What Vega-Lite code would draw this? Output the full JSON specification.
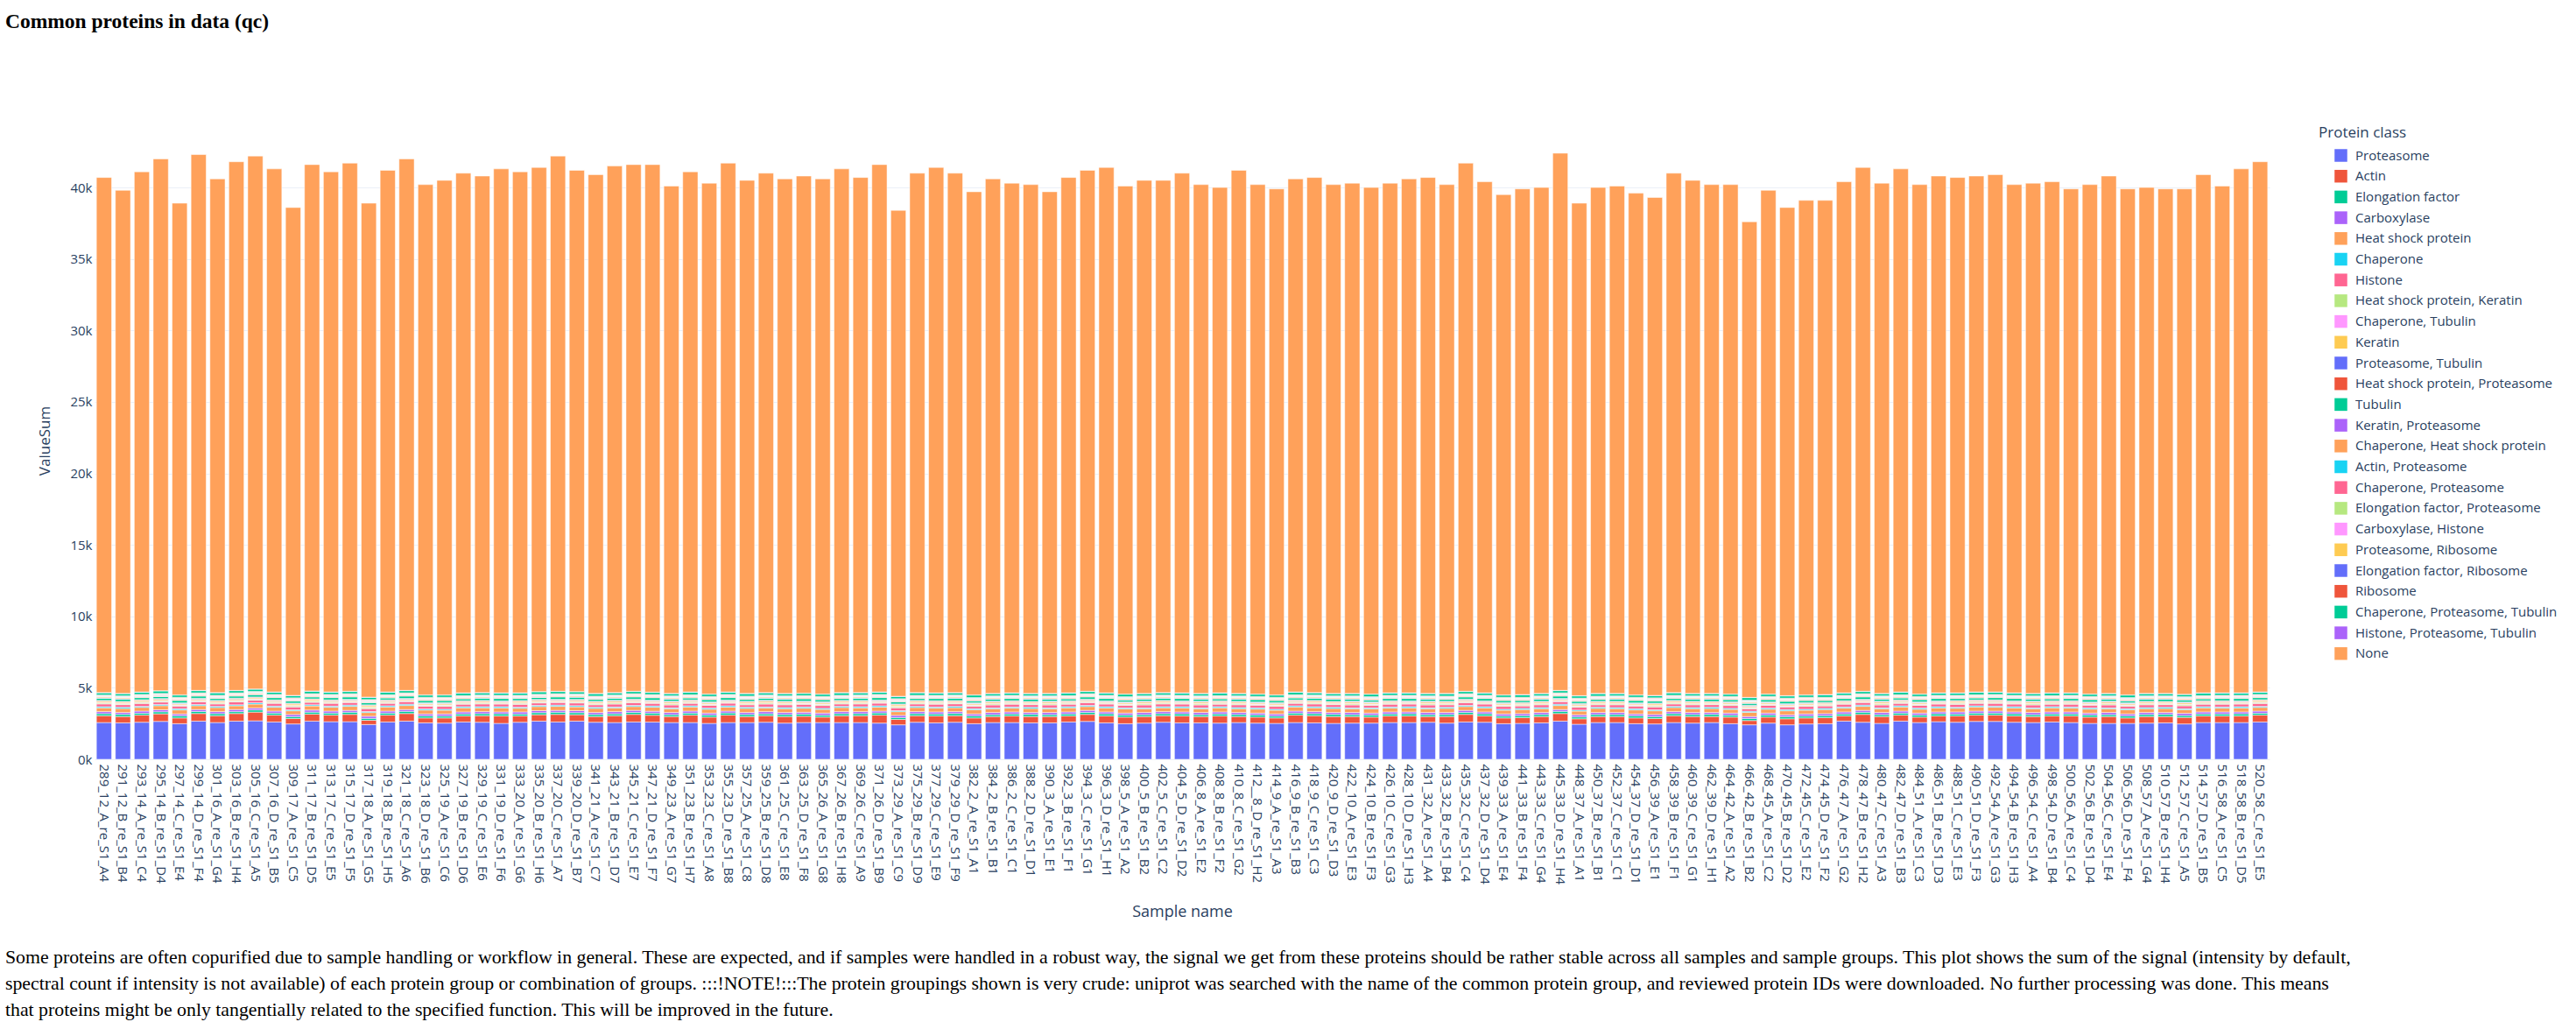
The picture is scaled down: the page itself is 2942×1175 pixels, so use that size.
{
"$schema": "https://vega.github.io/schema/vega-lite/v6.json",
"background": "white",
"padding": {"left": 5, "top": 12, "right": 5, "bottom": 5},
"title": {"text": "Common proteins in data (qc)", "anchor": "start", "frame": "bounds", "font": "Liberation Serif", "fontSize": 23.5, "fontWeight": "bold", "color": "#000000", "offset": 103},
"datasets": {
"classes": [{"k":"a","name":"Proteasome","o":0},{"k":"b","name":"Actin","o":1},{"k":"c","name":"Elongation factor","o":2},{"k":"d","name":"Carboxylase","o":3},{"k":"e","name":"Heat shock protein","o":4},{"k":"f","name":"Chaperone","o":5},{"k":"g","name":"Histone","o":6},{"k":"h","name":"Heat shock protein, Keratin","o":7},{"k":"i","name":"Chaperone, Tubulin","o":8},{"k":"j","name":"Keratin","o":9},{"k":"k","name":"Proteasome, Tubulin","o":10},{"k":"l","name":"Heat shock protein, Proteasome","o":11},{"k":"m","name":"Tubulin","o":12},{"k":"n","name":"Keratin, Proteasome","o":13},{"k":"o","name":"Chaperone, Heat shock protein","o":14},{"k":"p","name":"Actin, Proteasome","o":15},{"k":"q","name":"Chaperone, Proteasome","o":16},{"k":"r","name":"Elongation factor, Proteasome","o":17},{"k":"s","name":"Carboxylase, Histone","o":18},{"k":"t","name":"Proteasome, Ribosome","o":19},{"k":"u","name":"Elongation factor, Ribosome","o":20},{"k":"v","name":"Ribosome","o":21},{"k":"w","name":"Chaperone, Proteasome, Tubulin","o":22},{"k":"x","name":"Histone, Proteasome, Tubulin","o":23},{"k":"y","name":"None","o":24}],
"samples": [
{"sn":"289_12_A_re_S1_A4","a":2570,"b":480,"c":140,"d":140,"e":270,"f":80,"g":190,"h":60,"i":40,"j":80,"k":40,"l":30,"m":150,"n":20,"o":60,"p":20,"q":20,"r":20,"s":20,"t":20,"u":20,"v":30,"w":150,"x":20,"y":36030},
{"sn":"291_12_B_re_S1_B4","a":2550,"b":440,"c":150,"d":130,"e":280,"f":90,"g":180,"h":50,"i":40,"j":70,"k":40,"l":30,"m":160,"n":20,"o":60,"p":20,"q":20,"r":20,"s":20,"t":20,"u":20,"v":30,"w":150,"x":20,"y":35190},
{"sn":"293_14_A_re_S1_C4","a":2590,"b":500,"c":130,"d":150,"e":260,"f":70,"g":200,"h":70,"i":40,"j":90,"k":40,"l":30,"m":140,"n":20,"o":60,"p":20,"q":20,"r":20,"s":20,"t":20,"u":20,"v":30,"w":150,"x":20,"y":36390},
{"sn":"295_14_B_re_S1_D4","a":2650,"b":530,"c":140,"d":140,"e":290,"f":80,"g":170,"h":60,"i":40,"j":80,"k":40,"l":30,"m":130,"n":20,"o":60,"p":20,"q":20,"r":20,"s":20,"t":20,"u":20,"v":30,"w":170,"x":20,"y":37200},
{"sn":"297_14_C_re_S1_E4","a":2490,"b":400,"c":150,"d":130,"e":280,"f":90,"g":180,"h":50,"i":40,"j":70,"k":40,"l":30,"m":160,"n":20,"o":60,"p":20,"q":20,"r":20,"s":20,"t":20,"u":20,"v":30,"w":150,"x":20,"y":34390},
{"sn":"299_14_D_re_S1_F4","a":2670,"b":530,"c":140,"d":140,"e":270,"f":80,"g":190,"h":60,"i":40,"j":80,"k":40,"l":30,"m":150,"n":20,"o":60,"p":20,"q":20,"r":20,"s":20,"t":20,"u":20,"v":30,"w":150,"x":20,"y":37480},
{"sn":"301_16_A_re_S1_G4","a":2570,"b":480,"c":140,"d":140,"e":290,"f":80,"g":170,"h":60,"i":40,"j":80,"k":40,"l":30,"m":130,"n":20,"o":60,"p":20,"q":20,"r":20,"s":20,"t":20,"u":20,"v":30,"w":170,"x":20,"y":35930},
{"sn":"303_16_B_re_S1_H4","a":2670,"b":530,"c":130,"d":150,"e":260,"f":70,"g":200,"h":70,"i":40,"j":90,"k":40,"l":30,"m":140,"n":20,"o":60,"p":20,"q":20,"r":20,"s":20,"t":20,"u":20,"v":30,"w":150,"x":20,"y":36980},
{"sn":"305_16_C_re_S1_A5","a":2690,"b":610,"c":150,"d":130,"e":280,"f":90,"g":180,"h":50,"i":40,"j":70,"k":40,"l":30,"m":160,"n":20,"o":60,"p":20,"q":20,"r":20,"s":20,"t":20,"u":20,"v":30,"w":150,"x":20,"y":37280},
{"sn":"307_16_D_re_S1_B5","a":2610,"b":480,"c":140,"d":140,"e":270,"f":80,"g":190,"h":60,"i":40,"j":80,"k":40,"l":30,"m":150,"n":20,"o":60,"p":20,"q":20,"r":20,"s":20,"t":20,"u":20,"v":30,"w":150,"x":20,"y":36590},
{"sn":"309_17_A_re_S1_C5","a":2470,"b":380,"c":130,"d":150,"e":260,"f":70,"g":200,"h":70,"i":40,"j":90,"k":40,"l":30,"m":140,"n":20,"o":60,"p":20,"q":20,"r":20,"s":20,"t":20,"u":20,"v":30,"w":150,"x":20,"y":34130},
{"sn":"311_17_B_re_S1_D5","a":2670,"b":490,"c":140,"d":140,"e":290,"f":80,"g":170,"h":60,"i":40,"j":80,"k":40,"l":30,"m":130,"n":20,"o":60,"p":20,"q":20,"r":20,"s":20,"t":20,"u":20,"v":30,"w":170,"x":20,"y":36820},
{"sn":"313_17_C_re_S1_E5","a":2630,"b":460,"c":140,"d":140,"e":270,"f":80,"g":190,"h":60,"i":40,"j":80,"k":40,"l":30,"m":150,"n":20,"o":60,"p":20,"q":20,"r":20,"s":20,"t":20,"u":20,"v":30,"w":150,"x":20,"y":36390},
{"sn":"315_17_D_re_S1_F5","a":2630,"b":510,"c":150,"d":130,"e":280,"f":90,"g":180,"h":50,"i":40,"j":70,"k":40,"l":30,"m":160,"n":20,"o":60,"p":20,"q":20,"r":20,"s":20,"t":20,"u":20,"v":30,"w":150,"x":20,"y":36940},
{"sn":"317_18_A_re_S1_G5","a":2430,"b":300,"c":130,"d":150,"e":260,"f":70,"g":200,"h":70,"i":40,"j":90,"k":40,"l":30,"m":140,"n":20,"o":60,"p":20,"q":20,"r":20,"s":20,"t":20,"u":20,"v":30,"w":150,"x":20,"y":34550},
{"sn":"319_18_B_re_S1_H5","a":2610,"b":480,"c":140,"d":140,"e":290,"f":80,"g":170,"h":60,"i":40,"j":80,"k":40,"l":30,"m":130,"n":20,"o":60,"p":20,"q":20,"r":20,"s":20,"t":20,"u":20,"v":30,"w":170,"x":20,"y":36490},
{"sn":"321_18_C_re_S1_A6","a":2670,"b":530,"c":150,"d":130,"e":280,"f":90,"g":180,"h":50,"i":40,"j":70,"k":40,"l":30,"m":160,"n":20,"o":60,"p":20,"q":20,"r":20,"s":20,"t":20,"u":20,"v":30,"w":150,"x":20,"y":37180},
{"sn":"323_18_D_re_S1_B6","a":2550,"b":340,"c":140,"d":140,"e":270,"f":80,"g":190,"h":60,"i":40,"j":80,"k":40,"l":30,"m":150,"n":20,"o":60,"p":20,"q":20,"r":20,"s":20,"t":20,"u":20,"v":30,"w":150,"x":20,"y":35690},
{"sn":"325_19_A_re_S1_C6","a":2530,"b":360,"c":130,"d":150,"e":260,"f":70,"g":200,"h":70,"i":40,"j":90,"k":40,"l":30,"m":140,"n":20,"o":60,"p":20,"q":20,"r":20,"s":20,"t":20,"u":20,"v":30,"w":150,"x":20,"y":35990},
{"sn":"327_19_B_re_S1_D6","a":2610,"b":420,"c":140,"d":140,"e":290,"f":80,"g":170,"h":60,"i":40,"j":80,"k":40,"l":30,"m":130,"n":20,"o":60,"p":20,"q":20,"r":20,"s":20,"t":20,"u":20,"v":30,"w":170,"x":20,"y":36350},
{"sn":"329_19_C_re_S1_E6","a":2590,"b":460,"c":140,"d":140,"e":270,"f":80,"g":190,"h":60,"i":40,"j":80,"k":40,"l":30,"m":150,"n":20,"o":60,"p":20,"q":20,"r":20,"s":20,"t":20,"u":20,"v":30,"w":150,"x":20,"y":36130},
{"sn":"331_19_D_re_S1_F6","a":2510,"b":520,"c":150,"d":130,"e":280,"f":90,"g":180,"h":50,"i":40,"j":70,"k":40,"l":30,"m":160,"n":20,"o":60,"p":20,"q":20,"r":20,"s":20,"t":20,"u":20,"v":30,"w":150,"x":20,"y":36650},
{"sn":"333_20_A_re_S1_G6","a":2590,"b":440,"c":130,"d":150,"e":260,"f":70,"g":200,"h":70,"i":40,"j":90,"k":40,"l":30,"m":140,"n":20,"o":60,"p":20,"q":20,"r":20,"s":20,"t":20,"u":20,"v":30,"w":150,"x":20,"y":36450},
{"sn":"335_20_B_re_S1_H6","a":2670,"b":450,"c":140,"d":140,"e":290,"f":80,"g":170,"h":60,"i":40,"j":80,"k":40,"l":30,"m":130,"n":20,"o":60,"p":20,"q":20,"r":20,"s":20,"t":20,"u":20,"v":30,"w":170,"x":20,"y":36660},
{"sn":"337_20_C_re_S1_A7","a":2610,"b":530,"c":150,"d":130,"e":280,"f":90,"g":180,"h":50,"i":40,"j":70,"k":40,"l":30,"m":160,"n":20,"o":60,"p":20,"q":20,"r":20,"s":20,"t":20,"u":20,"v":30,"w":150,"x":20,"y":37440},
{"sn":"339_20_D_re_S1_B7","a":2670,"b":450,"c":140,"d":140,"e":270,"f":80,"g":190,"h":60,"i":40,"j":80,"k":40,"l":30,"m":150,"n":20,"o":60,"p":20,"q":20,"r":20,"s":20,"t":20,"u":20,"v":30,"w":150,"x":20,"y":36460},
{"sn":"341_21_A_re_S1_C7","a":2590,"b":400,"c":140,"d":140,"e":290,"f":80,"g":170,"h":60,"i":40,"j":80,"k":40,"l":30,"m":130,"n":20,"o":60,"p":20,"q":20,"r":20,"s":20,"t":20,"u":20,"v":30,"w":170,"x":20,"y":36290},
{"sn":"343_21_B_re_S1_D7","a":2570,"b":480,"c":130,"d":150,"e":260,"f":70,"g":200,"h":70,"i":40,"j":90,"k":40,"l":30,"m":140,"n":20,"o":60,"p":20,"q":20,"r":20,"s":20,"t":20,"u":20,"v":30,"w":150,"x":20,"y":36830},
{"sn":"345_21_C_re_S1_E7","a":2610,"b":530,"c":140,"d":140,"e":270,"f":80,"g":190,"h":60,"i":40,"j":80,"k":40,"l":30,"m":150,"n":20,"o":60,"p":20,"q":20,"r":20,"s":20,"t":20,"u":20,"v":30,"w":150,"x":20,"y":36840},
{"sn":"347_21_D_re_S1_F7","a":2600,"b":480,"c":150,"d":130,"e":280,"f":90,"g":180,"h":50,"i":40,"j":70,"k":40,"l":30,"m":160,"n":20,"o":60,"p":20,"q":20,"r":20,"s":20,"t":20,"u":20,"v":30,"w":150,"x":20,"y":36900},
{"sn":"349_23_A_re_S1_G7","a":2570,"b":420,"c":130,"d":150,"e":260,"f":70,"g":200,"h":70,"i":40,"j":90,"k":40,"l":30,"m":140,"n":20,"o":60,"p":20,"q":20,"r":20,"s":20,"t":20,"u":20,"v":30,"w":150,"x":20,"y":35490},
{"sn":"351_23_B_re_S1_H7","a":2570,"b":520,"c":140,"d":140,"e":290,"f":80,"g":170,"h":60,"i":40,"j":80,"k":40,"l":30,"m":130,"n":20,"o":60,"p":20,"q":20,"r":20,"s":20,"t":20,"u":20,"v":30,"w":170,"x":20,"y":36390},
{"sn":"353_23_C_re_S1_A8","a":2510,"b":440,"c":140,"d":140,"e":270,"f":80,"g":190,"h":60,"i":40,"j":80,"k":40,"l":30,"m":150,"n":20,"o":60,"p":20,"q":20,"r":20,"s":20,"t":20,"u":20,"v":30,"w":150,"x":20,"y":35730},
{"sn":"355_23_D_re_S1_B8","a":2570,"b":520,"c":150,"d":130,"e":280,"f":90,"g":180,"h":50,"i":40,"j":70,"k":40,"l":30,"m":160,"n":20,"o":60,"p":20,"q":20,"r":20,"s":20,"t":20,"u":20,"v":30,"w":150,"x":20,"y":36990},
{"sn":"357_25_A_re_S1_C8","a":2570,"b":420,"c":140,"d":140,"e":290,"f":80,"g":170,"h":60,"i":40,"j":80,"k":40,"l":30,"m":130,"n":20,"o":60,"p":20,"q":20,"r":20,"s":20,"t":20,"u":20,"v":30,"w":170,"x":20,"y":35890},
{"sn":"359_25_B_re_S1_D8","a":2590,"b":460,"c":130,"d":150,"e":260,"f":70,"g":200,"h":70,"i":40,"j":90,"k":40,"l":30,"m":140,"n":20,"o":60,"p":20,"q":20,"r":20,"s":20,"t":20,"u":20,"v":30,"w":150,"x":20,"y":36330},
{"sn":"361_25_C_re_S1_E8","a":2530,"b":460,"c":140,"d":140,"e":270,"f":80,"g":190,"h":60,"i":40,"j":80,"k":40,"l":30,"m":150,"n":20,"o":60,"p":20,"q":20,"r":20,"s":20,"t":20,"u":20,"v":30,"w":150,"x":20,"y":35990},
{"sn":"363_25_D_re_S1_F8","a":2570,"b":440,"c":150,"d":130,"e":280,"f":90,"g":180,"h":50,"i":40,"j":70,"k":40,"l":30,"m":160,"n":20,"o":60,"p":20,"q":20,"r":20,"s":20,"t":20,"u":20,"v":30,"w":150,"x":20,"y":36170},
{"sn":"365_26_A_re_S1_G8","a":2570,"b":380,"c":130,"d":150,"e":260,"f":70,"g":200,"h":70,"i":40,"j":90,"k":40,"l":30,"m":140,"n":20,"o":60,"p":20,"q":20,"r":20,"s":20,"t":20,"u":20,"v":30,"w":150,"x":20,"y":36030},
{"sn":"367_26_B_re_S1_H8","a":2570,"b":480,"c":140,"d":140,"e":290,"f":80,"g":170,"h":60,"i":40,"j":80,"k":40,"l":30,"m":130,"n":20,"o":60,"p":20,"q":20,"r":20,"s":20,"t":20,"u":20,"v":30,"w":170,"x":20,"y":36630},
{"sn":"369_26_C_re_S1_A9","a":2570,"b":480,"c":140,"d":140,"e":270,"f":80,"g":190,"h":60,"i":40,"j":80,"k":40,"l":30,"m":150,"n":20,"o":60,"p":20,"q":20,"r":20,"s":20,"t":20,"u":20,"v":30,"w":150,"x":20,"y":36030},
{"sn":"371_26_D_re_S1_B9","a":2530,"b":560,"c":150,"d":130,"e":280,"f":90,"g":180,"h":50,"i":40,"j":70,"k":40,"l":30,"m":160,"n":20,"o":60,"p":20,"q":20,"r":20,"s":20,"t":20,"u":20,"v":30,"w":150,"x":20,"y":36890},
{"sn":"373_29_A_re_S1_C9","a":2410,"b":380,"c":130,"d":150,"e":260,"f":70,"g":200,"h":70,"i":40,"j":90,"k":40,"l":30,"m":140,"n":20,"o":60,"p":20,"q":20,"r":20,"s":20,"t":20,"u":20,"v":30,"w":150,"x":20,"y":33990},
{"sn":"375_29_B_re_S1_D9","a":2590,"b":460,"c":140,"d":140,"e":290,"f":80,"g":170,"h":60,"i":40,"j":80,"k":40,"l":30,"m":130,"n":20,"o":60,"p":20,"q":20,"r":20,"s":20,"t":20,"u":20,"v":30,"w":170,"x":20,"y":36330},
{"sn":"377_29_C_re_S1_E9","a":2550,"b":480,"c":140,"d":140,"e":270,"f":80,"g":190,"h":60,"i":40,"j":80,"k":40,"l":30,"m":150,"n":20,"o":60,"p":20,"q":20,"r":20,"s":20,"t":20,"u":20,"v":30,"w":150,"x":20,"y":36750},
{"sn":"379_29_D_re_S1_F9","a":2590,"b":460,"c":150,"d":130,"e":280,"f":90,"g":180,"h":50,"i":40,"j":70,"k":40,"l":30,"m":160,"n":20,"o":60,"p":20,"q":20,"r":20,"s":20,"t":20,"u":20,"v":30,"w":150,"x":20,"y":36330},
{"sn":"382_2_A_re_S1_A1","a":2490,"b":400,"c":140,"d":140,"e":290,"f":80,"g":170,"h":60,"i":40,"j":80,"k":40,"l":30,"m":130,"n":20,"o":60,"p":20,"q":20,"r":20,"s":20,"t":20,"u":20,"v":30,"w":170,"x":20,"y":35190},
{"sn":"384_2_B_re_S1_B1","a":2570,"b":420,"c":130,"d":150,"e":260,"f":70,"g":200,"h":70,"i":40,"j":90,"k":40,"l":30,"m":140,"n":20,"o":60,"p":20,"q":20,"r":20,"s":20,"t":20,"u":20,"v":30,"w":150,"x":20,"y":35990},
{"sn":"386_2_C_re_S1_C1","a":2570,"b":460,"c":140,"d":140,"e":270,"f":80,"g":190,"h":60,"i":40,"j":80,"k":40,"l":30,"m":150,"n":20,"o":60,"p":20,"q":20,"r":20,"s":20,"t":20,"u":20,"v":30,"w":150,"x":20,"y":35650},
{"sn":"388_2_D_re_S1_D1","a":2550,"b":440,"c":150,"d":130,"e":280,"f":90,"g":180,"h":50,"i":40,"j":70,"k":40,"l":30,"m":160,"n":20,"o":60,"p":20,"q":20,"r":20,"s":20,"t":20,"u":20,"v":30,"w":150,"x":20,"y":35590},
{"sn":"390_3_A_re_S1_E1","a":2550,"b":440,"c":130,"d":150,"e":260,"f":70,"g":200,"h":70,"i":40,"j":90,"k":40,"l":30,"m":140,"n":20,"o":60,"p":20,"q":20,"r":20,"s":20,"t":20,"u":20,"v":30,"w":150,"x":20,"y":35090},
{"sn":"392_3_B_re_S1_F1","a":2610,"b":420,"c":140,"d":140,"e":290,"f":80,"g":170,"h":60,"i":40,"j":80,"k":40,"l":30,"m":130,"n":20,"o":60,"p":20,"q":20,"r":20,"s":20,"t":20,"u":20,"v":30,"w":170,"x":20,"y":36050},
{"sn":"394_3_C_re_S1_G1","a":2650,"b":490,"c":140,"d":140,"e":270,"f":80,"g":190,"h":60,"i":40,"j":80,"k":40,"l":30,"m":150,"n":20,"o":60,"p":20,"q":20,"r":20,"s":20,"t":20,"u":20,"v":30,"w":150,"x":20,"y":36440},
{"sn":"396_3_D_re_S1_H1","a":2550,"b":480,"c":150,"d":130,"e":280,"f":90,"g":180,"h":50,"i":40,"j":70,"k":40,"l":30,"m":160,"n":20,"o":60,"p":20,"q":20,"r":20,"s":20,"t":20,"u":20,"v":30,"w":150,"x":20,"y":36750},
{"sn":"398_5_A_re_S1_A2","a":2490,"b":460,"c":140,"d":140,"e":290,"f":80,"g":170,"h":60,"i":40,"j":80,"k":40,"l":30,"m":130,"n":20,"o":60,"p":20,"q":20,"r":20,"s":20,"t":20,"u":20,"v":30,"w":170,"x":20,"y":35530},
{"sn":"400_5_B_re_S1_B2","a":2530,"b":460,"c":130,"d":150,"e":260,"f":70,"g":200,"h":70,"i":40,"j":90,"k":40,"l":30,"m":140,"n":20,"o":60,"p":20,"q":20,"r":20,"s":20,"t":20,"u":20,"v":30,"w":150,"x":20,"y":35890},
{"sn":"402_5_C_re_S1_C2","a":2590,"b":460,"c":140,"d":140,"e":270,"f":80,"g":190,"h":60,"i":40,"j":80,"k":40,"l":30,"m":150,"n":20,"o":60,"p":20,"q":20,"r":20,"s":20,"t":20,"u":20,"v":30,"w":150,"x":20,"y":35830},
{"sn":"404_5_D_re_S1_D2","a":2550,"b":480,"c":150,"d":130,"e":280,"f":90,"g":180,"h":50,"i":40,"j":70,"k":40,"l":30,"m":160,"n":20,"o":60,"p":20,"q":20,"r":20,"s":20,"t":20,"u":20,"v":30,"w":150,"x":20,"y":36350},
{"sn":"406_8_A_re_S1_E2","a":2550,"b":440,"c":130,"d":150,"e":260,"f":70,"g":200,"h":70,"i":40,"j":90,"k":40,"l":30,"m":140,"n":20,"o":60,"p":20,"q":20,"r":20,"s":20,"t":20,"u":20,"v":30,"w":150,"x":20,"y":35590},
{"sn":"408_8_B_re_S1_F2","a":2530,"b":500,"c":140,"d":140,"e":290,"f":80,"g":170,"h":60,"i":40,"j":80,"k":40,"l":30,"m":130,"n":20,"o":60,"p":20,"q":20,"r":20,"s":20,"t":20,"u":20,"v":30,"w":170,"x":20,"y":35350},
{"sn":"410_8_C_re_S1_G2","a":2570,"b":420,"c":140,"d":140,"e":270,"f":80,"g":190,"h":60,"i":40,"j":80,"k":40,"l":30,"m":150,"n":20,"o":60,"p":20,"q":20,"r":20,"s":20,"t":20,"u":20,"v":30,"w":150,"x":20,"y":36590},
{"sn":"412__8_D_re_S1_H2","a":2530,"b":420,"c":150,"d":130,"e":280,"f":90,"g":180,"h":50,"i":40,"j":70,"k":40,"l":30,"m":160,"n":20,"o":60,"p":20,"q":20,"r":20,"s":20,"t":20,"u":20,"v":30,"w":150,"x":20,"y":35630},
{"sn":"414_9_A_re_S1_A3","a":2510,"b":380,"c":130,"d":150,"e":260,"f":70,"g":200,"h":70,"i":40,"j":90,"k":40,"l":30,"m":140,"n":20,"o":60,"p":20,"q":20,"r":20,"s":20,"t":20,"u":20,"v":30,"w":150,"x":20,"y":35390},
{"sn":"416_9_B_re_S1_B3","a":2570,"b":520,"c":140,"d":140,"e":290,"f":80,"g":170,"h":60,"i":40,"j":80,"k":40,"l":30,"m":130,"n":20,"o":60,"p":20,"q":20,"r":20,"s":20,"t":20,"u":20,"v":30,"w":170,"x":20,"y":35890},
{"sn":"418_9_C_re_S1_C3","a":2550,"b":500,"c":140,"d":140,"e":270,"f":80,"g":190,"h":60,"i":40,"j":80,"k":40,"l":30,"m":150,"n":20,"o":60,"p":20,"q":20,"r":20,"s":20,"t":20,"u":20,"v":30,"w":150,"x":20,"y":36030},
{"sn":"420_9_D_re_S1_D3","a":2510,"b":480,"c":150,"d":130,"e":280,"f":90,"g":180,"h":50,"i":40,"j":70,"k":40,"l":30,"m":160,"n":20,"o":60,"p":20,"q":20,"r":20,"s":20,"t":20,"u":20,"v":30,"w":150,"x":20,"y":35590},
{"sn":"422_10_A_re_S1_E3","a":2530,"b":460,"c":130,"d":150,"e":260,"f":70,"g":200,"h":70,"i":40,"j":90,"k":40,"l":30,"m":140,"n":20,"o":60,"p":20,"q":20,"r":20,"s":20,"t":20,"u":20,"v":30,"w":150,"x":20,"y":35690},
{"sn":"424_10_B_re_S1_F3","a":2530,"b":420,"c":140,"d":140,"e":290,"f":80,"g":170,"h":60,"i":40,"j":80,"k":40,"l":30,"m":130,"n":20,"o":60,"p":20,"q":20,"r":20,"s":20,"t":20,"u":20,"v":30,"w":170,"x":20,"y":35430},
{"sn":"426_10_C_re_S1_G3","a":2570,"b":460,"c":140,"d":140,"e":270,"f":80,"g":190,"h":60,"i":40,"j":80,"k":40,"l":30,"m":150,"n":20,"o":60,"p":20,"q":20,"r":20,"s":20,"t":20,"u":20,"v":30,"w":150,"x":20,"y":35650},
{"sn":"428_10_D_re_S1_H3","a":2570,"b":460,"c":150,"d":130,"e":280,"f":90,"g":180,"h":50,"i":40,"j":70,"k":40,"l":30,"m":160,"n":20,"o":60,"p":20,"q":20,"r":20,"s":20,"t":20,"u":20,"v":30,"w":150,"x":20,"y":35950},
{"sn":"431_32_A_re_S1_A4","a":2590,"b":400,"c":130,"d":150,"e":260,"f":70,"g":200,"h":70,"i":40,"j":90,"k":40,"l":30,"m":140,"n":20,"o":60,"p":20,"q":20,"r":20,"s":20,"t":20,"u":20,"v":30,"w":150,"x":20,"y":36090},
{"sn":"433_32_B_re_S1_B4","a":2530,"b":460,"c":140,"d":140,"e":290,"f":80,"g":170,"h":60,"i":40,"j":80,"k":40,"l":30,"m":130,"n":20,"o":60,"p":20,"q":20,"r":20,"s":20,"t":20,"u":20,"v":30,"w":170,"x":20,"y":35590},
{"sn":"435_32_C_re_S1_C4","a":2610,"b":530,"c":140,"d":140,"e":270,"f":80,"g":190,"h":60,"i":40,"j":80,"k":40,"l":30,"m":150,"n":20,"o":60,"p":20,"q":20,"r":20,"s":20,"t":20,"u":20,"v":30,"w":150,"x":20,"y":36940},
{"sn":"437_32_D_re_S1_D4","a":2590,"b":440,"c":150,"d":130,"e":280,"f":90,"g":180,"h":50,"i":40,"j":70,"k":40,"l":30,"m":160,"n":20,"o":60,"p":20,"q":20,"r":20,"s":20,"t":20,"u":20,"v":30,"w":150,"x":20,"y":35750},
{"sn":"439_33_A_re_S1_E4","a":2490,"b":400,"c":130,"d":150,"e":260,"f":70,"g":200,"h":70,"i":40,"j":90,"k":40,"l":30,"m":140,"n":20,"o":60,"p":20,"q":20,"r":20,"s":20,"t":20,"u":20,"v":30,"w":150,"x":20,"y":34990},
{"sn":"441_33_B_re_S1_F4","a":2510,"b":400,"c":140,"d":140,"e":290,"f":80,"g":170,"h":60,"i":40,"j":80,"k":40,"l":30,"m":130,"n":20,"o":60,"p":20,"q":20,"r":20,"s":20,"t":20,"u":20,"v":30,"w":170,"x":20,"y":35370},
{"sn":"443_33_C_re_S1_G4","a":2550,"b":440,"c":140,"d":140,"e":270,"f":80,"g":190,"h":60,"i":40,"j":80,"k":40,"l":30,"m":150,"n":20,"o":60,"p":20,"q":20,"r":20,"s":20,"t":20,"u":20,"v":30,"w":150,"x":20,"y":35390},
{"sn":"445_33_D_re_S1_H4","a":2670,"b":530,"c":150,"d":130,"e":280,"f":90,"g":180,"h":50,"i":40,"j":70,"k":40,"l":30,"m":160,"n":20,"o":60,"p":20,"q":20,"r":20,"s":20,"t":20,"u":20,"v":30,"w":150,"x":20,"y":37580},
{"sn":"448_37_A_re_S1_A1","a":2450,"b":380,"c":130,"d":150,"e":260,"f":70,"g":200,"h":70,"i":40,"j":90,"k":40,"l":30,"m":140,"n":20,"o":60,"p":20,"q":20,"r":20,"s":20,"t":20,"u":20,"v":30,"w":150,"x":20,"y":34450},
{"sn":"450_37_B_re_S1_B1","a":2570,"b":420,"c":140,"d":140,"e":290,"f":80,"g":170,"h":60,"i":40,"j":80,"k":40,"l":30,"m":130,"n":20,"o":60,"p":20,"q":20,"r":20,"s":20,"t":20,"u":20,"v":30,"w":170,"x":20,"y":35390},
{"sn":"452_37_C_re_S1_C1","a":2570,"b":420,"c":140,"d":140,"e":270,"f":80,"g":190,"h":60,"i":40,"j":80,"k":40,"l":30,"m":150,"n":20,"o":60,"p":20,"q":20,"r":20,"s":20,"t":20,"u":20,"v":30,"w":150,"x":20,"y":35490},
{"sn":"454_37_D_re_S1_D1","a":2490,"b":400,"c":150,"d":130,"e":280,"f":90,"g":180,"h":50,"i":40,"j":70,"k":40,"l":30,"m":160,"n":20,"o":60,"p":20,"q":20,"r":20,"s":20,"t":20,"u":20,"v":30,"w":150,"x":20,"y":35090},
{"sn":"456_39_A_re_S1_E1","a":2470,"b":380,"c":130,"d":150,"e":260,"f":70,"g":200,"h":70,"i":40,"j":90,"k":40,"l":30,"m":140,"n":20,"o":60,"p":20,"q":20,"r":20,"s":20,"t":20,"u":20,"v":30,"w":150,"x":20,"y":34830},
{"sn":"458_39_B_re_S1_F1","a":2570,"b":480,"c":140,"d":140,"e":290,"f":80,"g":170,"h":60,"i":40,"j":80,"k":40,"l":30,"m":130,"n":20,"o":60,"p":20,"q":20,"r":20,"s":20,"t":20,"u":20,"v":30,"w":170,"x":20,"y":36330},
{"sn":"460_39_C_re_S1_G1","a":2530,"b":460,"c":140,"d":140,"e":270,"f":80,"g":190,"h":60,"i":40,"j":80,"k":40,"l":30,"m":150,"n":20,"o":60,"p":20,"q":20,"r":20,"s":20,"t":20,"u":20,"v":30,"w":150,"x":20,"y":35890},
{"sn":"462_39_D_re_S1_H1","a":2570,"b":420,"c":150,"d":130,"e":280,"f":90,"g":180,"h":50,"i":40,"j":70,"k":40,"l":30,"m":160,"n":20,"o":60,"p":20,"q":20,"r":20,"s":20,"t":20,"u":20,"v":30,"w":150,"x":20,"y":35590},
{"sn":"464_42_A_re_S1_A2","a":2490,"b":460,"c":130,"d":150,"e":260,"f":70,"g":200,"h":70,"i":40,"j":90,"k":40,"l":30,"m":140,"n":20,"o":60,"p":20,"q":20,"r":20,"s":20,"t":20,"u":20,"v":30,"w":150,"x":20,"y":35630},
{"sn":"466_42_B_re_S1_B2","a":2410,"b":300,"c":140,"d":140,"e":290,"f":80,"g":170,"h":60,"i":40,"j":80,"k":40,"l":30,"m":130,"n":20,"o":60,"p":20,"q":20,"r":20,"s":20,"t":20,"u":20,"v":30,"w":170,"x":20,"y":33270},
{"sn":"468_45_A_re_S1_C2","a":2530,"b":420,"c":140,"d":140,"e":270,"f":80,"g":190,"h":60,"i":40,"j":80,"k":40,"l":30,"m":150,"n":20,"o":60,"p":20,"q":20,"r":20,"s":20,"t":20,"u":20,"v":30,"w":150,"x":20,"y":35230},
{"sn":"470_45_B_re_S1_D2","a":2410,"b":420,"c":150,"d":130,"e":280,"f":90,"g":180,"h":50,"i":40,"j":70,"k":40,"l":30,"m":160,"n":20,"o":60,"p":20,"q":20,"r":20,"s":20,"t":20,"u":20,"v":30,"w":150,"x":20,"y":34150},
{"sn":"472_45_C_re_S1_E2","a":2470,"b":420,"c":130,"d":150,"e":260,"f":70,"g":200,"h":70,"i":40,"j":90,"k":40,"l":30,"m":140,"n":20,"o":60,"p":20,"q":20,"r":20,"s":20,"t":20,"u":20,"v":30,"w":150,"x":20,"y":34590},
{"sn":"474_45_D_re_S1_F2","a":2490,"b":420,"c":140,"d":140,"e":290,"f":80,"g":170,"h":60,"i":40,"j":80,"k":40,"l":30,"m":130,"n":20,"o":60,"p":20,"q":20,"r":20,"s":20,"t":20,"u":20,"v":30,"w":170,"x":20,"y":34570},
{"sn":"476_47_A_re_S1_G2","a":2670,"b":360,"c":140,"d":140,"e":270,"f":80,"g":190,"h":60,"i":40,"j":80,"k":40,"l":30,"m":150,"n":20,"o":60,"p":20,"q":20,"r":20,"s":20,"t":20,"u":20,"v":30,"w":150,"x":20,"y":35750},
{"sn":"478_47_B_re_S1_H2","a":2590,"b":550,"c":150,"d":130,"e":280,"f":90,"g":180,"h":50,"i":40,"j":70,"k":40,"l":30,"m":160,"n":20,"o":60,"p":20,"q":20,"r":20,"s":20,"t":20,"u":20,"v":30,"w":150,"x":20,"y":36640},
{"sn":"480_47_C_re_S1_A3","a":2510,"b":480,"c":130,"d":150,"e":260,"f":70,"g":200,"h":70,"i":40,"j":90,"k":40,"l":30,"m":140,"n":20,"o":60,"p":20,"q":20,"r":20,"s":20,"t":20,"u":20,"v":30,"w":150,"x":20,"y":35690},
{"sn":"482_47_D_re_S1_B3","a":2670,"b":420,"c":140,"d":140,"e":290,"f":80,"g":170,"h":60,"i":40,"j":80,"k":40,"l":30,"m":130,"n":20,"o":60,"p":20,"q":20,"r":20,"s":20,"t":20,"u":20,"v":30,"w":170,"x":20,"y":36590},
{"sn":"484_51_A_re_S1_C3","a":2570,"b":380,"c":140,"d":140,"e":270,"f":80,"g":190,"h":60,"i":40,"j":80,"k":40,"l":30,"m":150,"n":20,"o":60,"p":20,"q":20,"r":20,"s":20,"t":20,"u":20,"v":30,"w":150,"x":20,"y":35630},
{"sn":"486_51_B_re_S1_D3","a":2630,"b":400,"c":150,"d":130,"e":280,"f":90,"g":180,"h":50,"i":40,"j":70,"k":40,"l":30,"m":160,"n":20,"o":60,"p":20,"q":20,"r":20,"s":20,"t":20,"u":20,"v":30,"w":150,"x":20,"y":36150},
{"sn":"488_51_C_re_S1_E3","a":2590,"b":440,"c":130,"d":150,"e":260,"f":70,"g":200,"h":70,"i":40,"j":90,"k":40,"l":30,"m":140,"n":20,"o":60,"p":20,"q":20,"r":20,"s":20,"t":20,"u":20,"v":30,"w":150,"x":20,"y":36050},
{"sn":"490_51_D_re_S1_F3","a":2650,"b":440,"c":140,"d":140,"e":290,"f":80,"g":170,"h":60,"i":40,"j":80,"k":40,"l":30,"m":130,"n":20,"o":60,"p":20,"q":20,"r":20,"s":20,"t":20,"u":20,"v":30,"w":170,"x":20,"y":36090},
{"sn":"492_54_A_re_S1_G3","a":2650,"b":440,"c":140,"d":140,"e":270,"f":80,"g":190,"h":60,"i":40,"j":80,"k":40,"l":30,"m":150,"n":20,"o":60,"p":20,"q":20,"r":20,"s":20,"t":20,"u":20,"v":30,"w":150,"x":20,"y":36190},
{"sn":"494_54_B_re_S1_H3","a":2590,"b":440,"c":150,"d":130,"e":280,"f":90,"g":180,"h":50,"i":40,"j":70,"k":40,"l":30,"m":160,"n":20,"o":60,"p":20,"q":20,"r":20,"s":20,"t":20,"u":20,"v":30,"w":150,"x":20,"y":35550},
{"sn":"496_54_C_re_S1_A4","a":2570,"b":420,"c":130,"d":150,"e":260,"f":70,"g":200,"h":70,"i":40,"j":90,"k":40,"l":30,"m":140,"n":20,"o":60,"p":20,"q":20,"r":20,"s":20,"t":20,"u":20,"v":30,"w":150,"x":20,"y":35690},
{"sn":"498_54_D_re_S1_B4","a":2610,"b":420,"c":140,"d":140,"e":290,"f":80,"g":170,"h":60,"i":40,"j":80,"k":40,"l":30,"m":130,"n":20,"o":60,"p":20,"q":20,"r":20,"s":20,"t":20,"u":20,"v":30,"w":170,"x":20,"y":35750},
{"sn":"500_56_A_re_S1_C4","a":2570,"b":460,"c":140,"d":140,"e":270,"f":80,"g":190,"h":60,"i":40,"j":80,"k":40,"l":30,"m":150,"n":20,"o":60,"p":20,"q":20,"r":20,"s":20,"t":20,"u":20,"v":30,"w":150,"x":20,"y":35250},
{"sn":"502_56_B_re_S1_D4","a":2510,"b":440,"c":150,"d":130,"e":280,"f":90,"g":180,"h":50,"i":40,"j":70,"k":40,"l":30,"m":160,"n":20,"o":60,"p":20,"q":20,"r":20,"s":20,"t":20,"u":20,"v":30,"w":150,"x":20,"y":35630},
{"sn":"504_56_C_re_S1_E4","a":2510,"b":480,"c":130,"d":150,"e":260,"f":70,"g":200,"h":70,"i":40,"j":90,"k":40,"l":30,"m":140,"n":20,"o":60,"p":20,"q":20,"r":20,"s":20,"t":20,"u":20,"v":30,"w":150,"x":20,"y":36190},
{"sn":"506_56_D_re_S1_F4","a":2510,"b":380,"c":140,"d":140,"e":290,"f":80,"g":170,"h":60,"i":40,"j":80,"k":40,"l":30,"m":130,"n":20,"o":60,"p":20,"q":20,"r":20,"s":20,"t":20,"u":20,"v":30,"w":170,"x":20,"y":35390},
{"sn":"508_57_A_re_S1_G4","a":2530,"b":460,"c":140,"d":140,"e":270,"f":80,"g":190,"h":60,"i":40,"j":80,"k":40,"l":30,"m":150,"n":20,"o":60,"p":20,"q":20,"r":20,"s":20,"t":20,"u":20,"v":30,"w":150,"x":20,"y":35390},
{"sn":"510_57_B_re_S1_H4","a":2550,"b":440,"c":150,"d":130,"e":280,"f":90,"g":180,"h":50,"i":40,"j":70,"k":40,"l":30,"m":160,"n":20,"o":60,"p":20,"q":20,"r":20,"s":20,"t":20,"u":20,"v":30,"w":150,"x":20,"y":35290},
{"sn":"512_57_C_re_S1_A5","a":2470,"b":460,"c":130,"d":150,"e":260,"f":70,"g":200,"h":70,"i":40,"j":90,"k":40,"l":30,"m":140,"n":20,"o":60,"p":20,"q":20,"r":20,"s":20,"t":20,"u":20,"v":30,"w":150,"x":20,"y":35350},
{"sn":"514_57_D_re_S1_B5","a":2570,"b":460,"c":140,"d":140,"e":290,"f":80,"g":170,"h":60,"i":40,"j":80,"k":40,"l":30,"m":130,"n":20,"o":60,"p":20,"q":20,"r":20,"s":20,"t":20,"u":20,"v":30,"w":170,"x":20,"y":36250},
{"sn":"516_58_A_re_S1_C5","a":2570,"b":460,"c":140,"d":140,"e":270,"f":80,"g":190,"h":60,"i":40,"j":80,"k":40,"l":30,"m":150,"n":20,"o":60,"p":20,"q":20,"r":20,"s":20,"t":20,"u":20,"v":30,"w":150,"x":20,"y":35450},
{"sn":"518_58_B_re_S1_D5","a":2570,"b":460,"c":150,"d":130,"e":280,"f":90,"g":180,"h":50,"i":40,"j":70,"k":40,"l":30,"m":160,"n":20,"o":60,"p":20,"q":20,"r":20,"s":20,"t":20,"u":20,"v":30,"w":150,"x":20,"y":36650},
{"sn":"520_58_C_re_S1_E5","a":2610,"b":480,"c":130,"d":150,"e":260,"f":70,"g":200,"h":70,"i":40,"j":90,"k":40,"l":30,"m":140,"n":20,"o":60,"p":20,"q":20,"r":20,"s":20,"t":20,"u":20,"v":30,"w":150,"x":20,"y":37090}
]
},
"vconcat": [
{
"width": 2484,
"height": 728,
"title": {"text": ["Some proteins are often copurified due to sample handling or workflow in general. These are expected, and if samples were handled in a robust way, the signal we get from these proteins should be rather stable across all samples and sample groups. This plot shows the sum of the signal (intensity by default,", "spectral count if intensity is not available) of each protein group or combination of groups. :::!NOTE!:::The protein groupings shown is very crude: uniprot was searched with the name of the common protein group, and reviewed protein IDs were downloaded. No further processing was done. This means", "that proteins might be only tangentially related to the specified function. This will be improved in the future."], "orient": "bottom", "anchor": "start", "frame": "bounds", "font": "Liberation Serif", "fontSize": 21.8, "fontWeight": "normal", "color": "#000000", "lineHeight": 30, "offset": 32, "dx": -37},
"data": {"name": "samples"},
"transform": [
{"fold": ["a","b","c","d","e","f","g","h","i","j","k","l","m","n","o","p","q","r","s","t","u","v","w","x","y"], "as": ["key","val"]},
{"lookup": "key", "from": {"data": {"name": "classes"}, "key": "k", "fields": ["name","o"]}, "as": ["cls","ord"]}
],
"mark": {"type": "bar", "stroke": "white", "strokeWidth": 0.5},
"encoding": {
"x": {"field": "sn", "type": "nominal", "sort": null, "scale": {"paddingInner": 0.2, "paddingOuter": 0.1}, "axis": {"title": "Sample name", "labelAngle": 90, "labelFontSize": 15, "labelPadding": 5, "labelOverlap": false, "labelLimit": 0, "titleFontSize": 18, "titlePadding": 23, "grid": false}},
"y": {"field": "val", "type": "quantitative", "stack": "zero", "scale": {"domain": [0, 44600], "nice": false, "zero": true}, "axis": {"title": "ValueSum", "values": [0,5000,10000,15000,20000,25000,30000,35000,40000], "format": "~s", "labelFontSize": 15, "labelPadding": 3, "titleFontSize": 17, "titlePadding": 19, "grid": true}},
"color": {"field": "cls", "type": "nominal", "scale": {"domain": ["Proteasome","Actin","Elongation factor","Carboxylase","Heat shock protein","Chaperone","Histone","Heat shock protein, Keratin","Chaperone, Tubulin","Keratin","Proteasome, Tubulin","Heat shock protein, Proteasome","Tubulin","Keratin, Proteasome","Chaperone, Heat shock protein","Actin, Proteasome","Chaperone, Proteasome","Elongation factor, Proteasome","Carboxylase, Histone","Proteasome, Ribosome","Elongation factor, Ribosome","Ribosome","Chaperone, Proteasome, Tubulin","Histone, Proteasome, Tubulin","None"], "range": ["#636EFA","#EF553B","#00CC96","#AB63FA","#FFA15A","#19D3F3","#FF6692","#B6E880","#FF97FF","#FECB52","#636EFA","#EF553B","#00CC96","#AB63FA","#FFA15A","#19D3F3","#FF6692","#B6E880","#FF97FF","#FECB52","#636EFA","#EF553B","#00CC96","#AB63FA","#FFA15A"]}, "legend": {"title": "Protein class", "orient": "none", "legendX": 2540, "legendY": 5, "padding": 0, "symbolType": "square", "symbolSize": 210, "symbolStrokeWidth": 0, "symbolOffset": 18, "labelFont": "Open Sans", "labelFontSize": 15, "labelColor": "#2a3f5f", "labelOffset": 9, "labelLimit": 0, "titleFont": "Open Sans", "titleFontSize": 17, "titleFontWeight": "normal", "titleColor": "#2a3f5f", "titlePadding": 9, "rowPadding": 7.7}},
"order": {"field": "ord", "type": "quantitative"}
}
}
],
"config": {
"view": {"stroke": null},
"axis": {"labelFont": "Open Sans", "titleFont": "Open Sans", "labelColor": "#2a3f5f", "titleColor": "#2a3f5f", "titleFontWeight": "normal", "gridColor": "#ebf0f8", "gridWidth": 1, "domain": false, "ticks": false}
}
}
